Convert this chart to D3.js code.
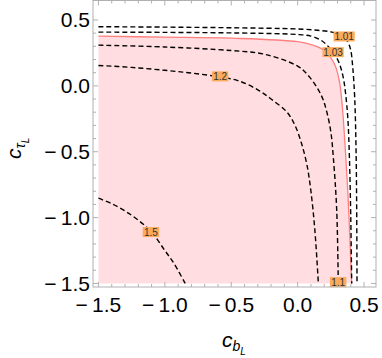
<html>
<script src='https://d3js.org/d3.v7.min.js'></script>
<style>
body {margin:0; background:#fff;}
text {font-family: 'Liberation Sans', Arial, sans-serif;}
</style>
<body onload='init()'>
<svg width=382 height=358></svg>
<script>
// contour points [cbL, ctauL]
var c101 = [[-1.5,0.449],[-1.0,0.446],[-0.5,0.441],[0.0,0.432],[0.15,0.422],[0.25,0.41],[0.31,0.39],[0.35,0.37],[0.38,0.33],[0.4,0.27],[0.415,0.14],[0.43,-0.1],[0.44,-0.5],[0.445,-1.0],[0.447,-1.5]];
var c103 = [[-1.5,0.408],[-1.0,0.406],[-0.5,0.402],[0.0,0.39],[0.1,0.378],[0.17,0.35],[0.22,0.31],[0.27,0.25],[0.31,0.18],[0.34,0.08],[0.36,-0.05],[0.378,-0.25],[0.39,-0.55],[0.4,-1.0],[0.407,-1.5]];
var c110 = [[-1.5,0.309],[-1.0,0.295],[-0.5,0.268],[-0.25,0.24],[0.0,0.15],[0.07,0.09],[0.144,-0.01],[0.19,-0.1],[0.22,-0.2],[0.25,-0.35],[0.27,-0.56],[0.294,-0.94],[0.306,-1.5]];
var c120 = [[-1.5,0.155],[-1.25,0.14],[-1.0,0.118],[-0.8,0.097],[-0.6,0.07],[-0.45,0.04],[-0.3,-0.03],[-0.2,-0.1],[-0.08,-0.2],[-0.02,-0.3],[0.03,-0.44],[0.07,-0.6],[0.1,-0.8],[0.13,-1.1],[0.156,-1.5]];
var c150 = [[-1.5,-0.853],[-1.4,-0.895],[-1.3,-0.95],[-1.2,-1.02],[-1.1,-1.11],[-1.0,-1.25],[-0.93,-1.35],[-0.847,-1.5]];
// edge of the allowed (pink) region
var allowed = [[-1.5,0.377],[-1.0,0.37],[-0.5,0.362],[0.0,0.335],[0.12,0.307],[0.2,0.27],[0.245,0.22],[0.28,0.16],[0.3,0.1],[0.32,0],[0.34,-0.2],[0.36,-0.5],[0.38,-0.85],[0.395,-1.2],[0.407,-1.5]];

var labelText = ["1.01","1.03","1.1","1.2","1.5"];
var labelPos = [[0.35,0.375],[0.267,0.256],[0.305,-1.49],[-0.584,0.072],[-1.105,-1.11]];

var majorTicks = [-1.5,-1.0,-0.5,0.0,0.5];
var tickText = ["\u2212\u20091.5","\u2212\u20091.0","\u2212\u20090.5","0.0","0.5"];

function init() {
  var svg = d3.select("svg");
  var x = d3.scaleLinear().domain([-1.541,0.59]).range([93,376]);
  var y = d3.scaleLinear().domain([-1.527,0.648]).range([287,0.5]);

  var line = d3.line()
    .x(function(d){return x(d[0]);})
    .y(function(d){return y(d[1]);})
    .curve(d3.curveCatmullRom.alpha(0.5));

  // shaded region
  svg.append("path")
    .attr("d", line(allowed) + "L" + x(-1.5) + "," + y(-1.5) + "Z")
    .attr("fill", "#ffdde0");
  svg.append("path")
    .attr("d", line(allowed))
    .attr("fill", "none").attr("stroke", "#ff7f7f").attr("stroke-width", 1.3);

  [c101,c103,c110,c120,c150].forEach(function(c){
    svg.append("path")
      .attr("d", line(c))
      .attr("fill", "none")
      .attr("stroke", "#000")
      .attr("stroke-width", 1.4)
      .attr("stroke-dasharray", "5,3");
  });

  // contour labels
  labelText.forEach(function(t,i){
    var g = svg.append("g").attr("transform","translate("+x(labelPos[i][0])+","+y(labelPos[i][1])+")");
    var w = t.length*4.8 + 2;
    g.append("rect").attr("x",-w/2).attr("y",-5).attr("width",w).attr("height",10).attr("fill","#fbab5b");
    g.append("text").attr("text-anchor","middle").attr("y",3.5).attr("font-size",10).attr("fill","#333").text(t);
  });

  // frame
  var fc = "#b0b0b0";
  svg.append("rect").attr("x",93).attr("y",0.5).attr("width",283).attr("height",286.5)
    .attr("fill","none").attr("stroke",fc).attr("stroke-width",1);

  var minor = d3.range(-15,6).map(function(k){return k/10;});
  minor.forEach(function(v){
    var isMajor = Math.abs(v*2 - Math.round(v*2)) < 1e-6;
    var len = isMajor ? 5 : 3;
    svg.append("line").attr("x1",x(v)).attr("x2",x(v)).attr("y1",287).attr("y2",287-len).attr("stroke",fc);
    svg.append("line").attr("x1",x(v)).attr("x2",x(v)).attr("y1",0.5).attr("y2",0.5+len).attr("stroke",fc);
    svg.append("line").attr("x1",93).attr("x2",93+len).attr("y1",y(v)).attr("y2",y(v)).attr("stroke",fc);
    svg.append("line").attr("x1",376).attr("x2",376-len).attr("y1",y(v)).attr("y2",y(v)).attr("stroke",fc);
  });

  majorTicks.forEach(function(v,i){
    svg.append("text").attr("x",x(v)).attr("y",312).attr("text-anchor","middle")
      .attr("font-size",21).text(tickText[i]);
    svg.append("text").attr("x",90).attr("y",y(v)+7.5).attr("text-anchor","end")
      .attr("font-size",21).text(tickText[i]);
  });

  // axis titles
  var xl = svg.append("text").attr("x",222).attr("y",347).attr("font-size",21).attr("font-style","italic");
  xl.append("tspan").text("c");
  xl.append("tspan").attr("font-size",14).attr("dy",4).text("b");
  xl.append("tspan").attr("font-size",10).attr("dy",4).text("L");

  var yl = svg.append("text").attr("transform","translate(21,159) rotate(-90)").attr("font-size",21).attr("font-style","italic");
  yl.append("tspan").text("c");
  yl.append("tspan").attr("font-size",14).attr("dy",4).text("\u03c4");
  yl.append("tspan").attr("font-size",10).attr("dy",4).text("L");
}
</script>
</body>
</html>
